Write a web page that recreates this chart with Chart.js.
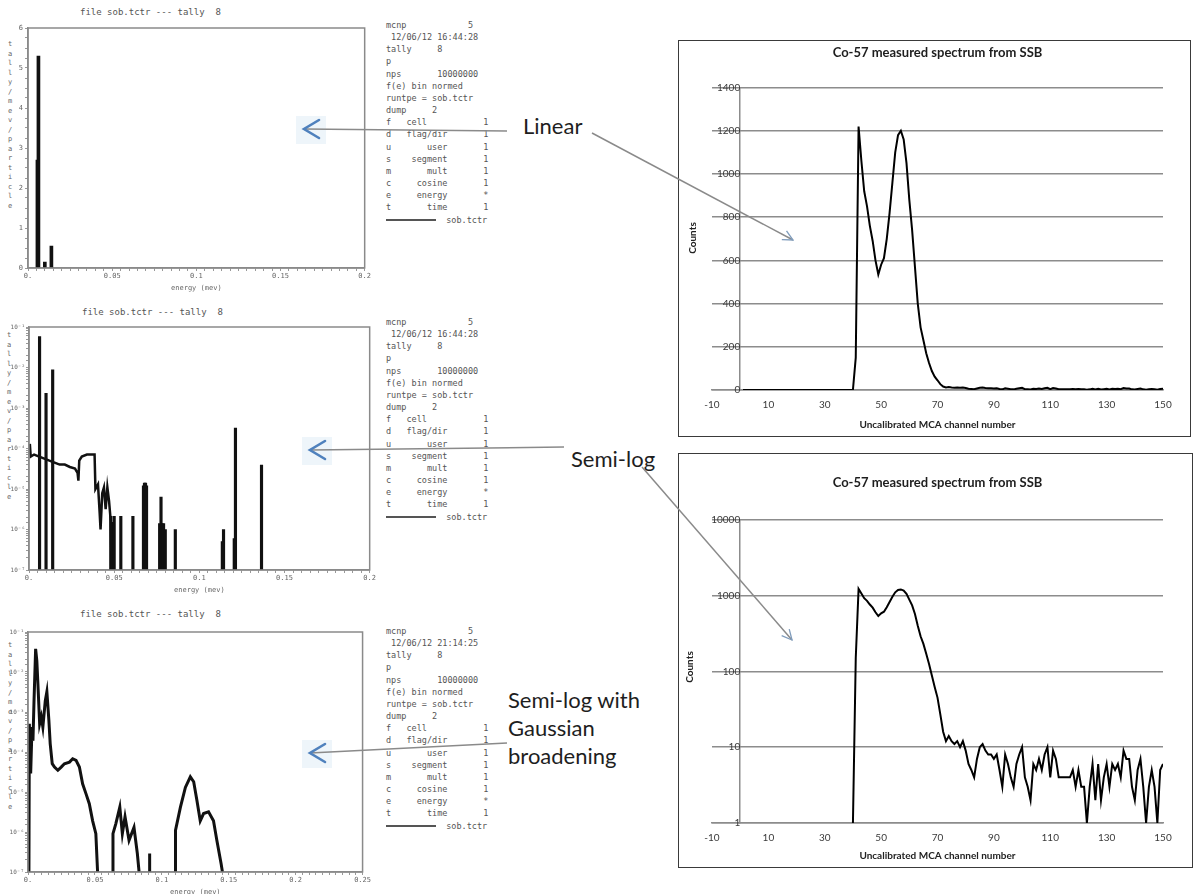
<!DOCTYPE html>
<html>
<head>
<meta charset="utf-8">
<script src="https://cdn.jsdelivr.net/npm/chart.js@4.4.0/dist/chart.umd.min.js"></script>
<style>
body { margin: 0; background: #fff; width: 1197px; height: 894px; position: relative; overflow: hidden; font-family: Lato, sans-serif; }
.abs { position: absolute; }
.box { position: absolute; border: 1.5px solid #3a3a3a; box-sizing: border-box; }
pre.info { position: absolute; margin: 0; font: 8.5px/12.15px "DejaVu Sans Mono", monospace; color: #555; }
pre.info span.key { display: inline-block; width: 50px; height: 0; border-top: 2px solid #555; vertical-align: middle; }
.ttl { position: absolute; font: 9px "DejaVu Sans Mono", monospace; color: #555; white-space: pre; }
.vlab { position: absolute; writing-mode: vertical-lr; text-orientation: upright; font: 7px "DejaVu Sans Mono", monospace; color: #666; letter-spacing: 1.5px; }
.note { position: absolute; font: 22px/28px Lato, sans-serif; color: #1e1e1e; white-space: pre; }
.ytitle { position: absolute; font: bold 10px Lato, sans-serif; color: #222; transform: rotate(-90deg); transform-origin: center; white-space: nowrap; }
</style>
</head>
<body>

<!-- MCNP tally plots (left) -->
<div class="ttl" style="left:80px;top:7px">file sob.tctr --- tally  8</div>
<div class="vlab" style="left:6px;top:40px">tally/mev/particle</div>
<canvas id="mcnpLin" class="abs" style="left:0;top:20px" width="372" height="272"></canvas>

<div class="ttl" style="left:82px;top:307px">file sob.tctr --- tally  8</div>
<div class="vlab" style="left:5px;top:331px">tally/mev/particle</div>
<canvas id="mcnpLog" class="abs" style="left:0;top:319px" width="377" height="275"></canvas>

<div class="ttl" style="left:80px;top:609px">file sob.tctr --- tally  8</div>
<div class="vlab" style="left:6px;top:641px">tally/mev/particle</div>
<canvas id="mcnpGauss" class="abs" style="left:0;top:624px" width="372" height="272"></canvas>

<pre class="info" style="left:386px;top:19px">mcnp            5
 12/06/12 16:44:28
tally     8
p
nps       10000000
f(e) bin normed
runtpe = sob.tctr
dump     2
f   cell           1
d   flag/dir       1
u       user       1
s    segment       1
m       mult       1
c     cosine       1
e     energy       *
t       time       1
<span class="key"></span>  sob.tctr</pre>

<pre class="info" style="left:386px;top:316px">mcnp            5
 12/06/12 16:44:28
tally     8
p
nps       10000000
f(e) bin normed
runtpe = sob.tctr
dump     2
f   cell           1
d   flag/dir       1
u       user       1
s    segment       1
m       mult       1
c     cosine       1
e     energy       *
t       time       1
<span class="key"></span>  sob.tctr</pre>

<pre class="info" style="left:386px;top:625px">mcnp            5
 12/06/12 21:14:25
tally     8
p
nps       10000000
f(e) bin normed
runtpe = sob.tctr
dump     2
f   cell           1
d   flag/dir       1
u       user       1
s    segment       1
m       mult       1
c     cosine       1
e     energy       *
t       time       1
<span class="key"></span>  sob.tctr</pre>

<!-- measured spectra (right) -->
<canvas id="specLin" class="abs" style="left:678px;top:40px" width="513" height="397"></canvas>
<div class="box" style="left:678px;top:40px;width:513px;height:397px"></div>
<div class="ytitle" style="left:676px;top:232px">Counts</div>

<canvas id="specLog" class="abs" style="left:678px;top:453px" width="515" height="415"></canvas>
<div class="box" style="left:678px;top:453px;width:515px;height:415px"></div>
<div class="ytitle" style="left:673px;top:661px">Counts</div>

<!-- labels and arrows -->
<div class="note" style="left:523px;top:112px">Linear</div>
<div class="note" style="left:571px;top:445px">Semi-log</div>
<div class="note" style="left:508px;top:686px">Semi-log with
Gaussian
broadening</div>

<svg class="abs" style="left:0;top:0" width="1197" height="894">
  <defs>
    <marker id="head" viewBox="0 0 12 12" refX="11" refY="6" markerWidth="12" markerHeight="12" markerUnits="userSpaceOnUse" orient="auto">
      <path d="M1,1 L11,6 L1,11" fill="none" stroke="#7f9cbc" stroke-width="1.3"/>
    </marker>
  </defs>
  <g fill="#eef5fa">
    <rect x="296" y="116" width="30" height="28"/>
    <rect x="302" y="437" width="30" height="28"/>
    <rect x="302" y="740" width="30" height="28"/>
  </g>
  <g stroke="#8a8a8a" stroke-width="1.5" fill="none">
    <line x1="304" y1="129" x2="507" y2="131"/>
    <line x1="310" y1="450" x2="564" y2="447"/>
    <line x1="310" y1="753" x2="507" y2="743"/>
    <line x1="592" y1="133" x2="793" y2="240" marker-end="url(#head)"/>
    <line x1="642" y1="467" x2="792" y2="640" marker-end="url(#head)"/>
  </g>
  <g stroke="#4f81bd" stroke-width="2.6" fill="none" stroke-linecap="round">
    <polyline points="319,120 304,129 319,138"/>
    <polyline points="325,441 310,450 325,459"/>
    <polyline points="325,744 310,753 325,762"/>
  </g>
</svg>

<script>
Chart.defaults.animation = false;
Chart.defaults.font.family = 'Lato';

// measured Co-57 spectrum, one value per MCA channel
const channels = [
  1, 2, 3, 4, 5, 6, 7, 8, 9, 10,
  11, 12, 13, 14, 15, 16, 17, 18, 19, 20,
  21, 22, 23, 24, 25, 26, 27, 28, 29, 30,
  31, 32, 33, 34, 35, 36, 37, 38, 39, 40,
  41, 42, 43, 44, 45, 46, 47, 48, 49, 50,
  51, 52, 53, 54, 55, 56, 57, 58, 59, 60,
  61, 62, 63, 64, 65, 66, 67, 68, 69, 70,
  71, 72, 73, 74, 75, 76, 77, 78, 79, 80,
  81, 82, 83, 84, 85, 86, 87, 88, 89, 90,
  91, 92, 93, 94, 95, 96, 97, 98, 99, 100,
  101, 102, 103, 104, 105, 106, 107, 108, 109, 110,
  111, 112, 113, 114, 115, 116, 117, 118, 119, 120,
  121, 122, 123, 124, 125, 126, 127, 128, 129, 130,
  131, 132, 133, 134, 135, 136, 137, 138, 139, 140,
  141, 142, 143, 144, 145, 146, 147, 148, 149, 150
];
const counts = [
  0, 0, 0, 0, 0, 0, 0, 0, 0, 0,
  0, 0, 0, 0, 0, 0, 0, 0, 0, 0,
  0, 0, 0, 0, 0, 0, 0, 0, 0, 0,
  0, 0, 0, 0, 0, 0, 0, 0, 0, 1,
  150, 1220, 1060, 920, 850, 760, 690, 600, 535, 580,
  610, 700, 820, 960, 1100, 1180, 1200, 1160, 1050, 880,
  740, 570, 400, 290, 230, 170, 125, 88, 62, 45,
  27, 16, 12, 14, 12, 11, 12, 10, 12, 9,
  6, 5, 4, 7, 10, 11, 9, 8, 8, 7,
  8, 5, 3, 8, 6, 4, 3, 6, 8, 10,
  4, 3, 2, 6, 5, 7, 5, 8, 10, 4,
  9, 7, 4, 4, 4, 4, 4, 5, 3, 5,
  3, 3, 1, 3, 6, 2, 6, 2, 4, 6,
  3, 6, 5, 6, 4, 9, 7, 7, 3, 2,
  5, 7, 3, 1, 3, 5, 3, 1, 5, 6
];
const channelTicks = [-10, 10, 30, 50, 70, 90, 110, 130, 150];
const linCountTicks = [0, 200, 400, 600, 800, 1000, 1200, 1400];
const logCountTicks = [1, 10, 100, 1000, 10000];
const spectrumTitle = 'Co-57 measured spectrum from SSB';
const channelTitle = 'Uncalibrated MCA channel number';

// MCNP tally, linear plot (energy in MeV)
const linPeakE = [0.0056, 0.0062, 0.0100, 0.0139];
const linPeakV = [2.7, 5.3, 0.15, 0.55];

// MCNP tally, semi-log plot
const semiE = [0.0005, 0.001, 0.003, 0.006, 0.009, 0.012, 0.015, 0.018, 0.021, 0.024,
  0.027, 0.0285, 0.029, 0.0295, 0.031, 0.034, 0.037, 0.0385, 0.039, 0.0405,
  0.0415, 0.042, 0.043, 0.044, 0.045, 0.046, 0.047, 0.048, 0.0485];
const semiV = [1.3e-4, 6.3e-5, 7.1e-5, 6.3e-5, 5.6e-5, 5.0e-5, 4.5e-5, 4.0e-5, 4.0e-5, 3.5e-5,
  3.2e-5, 2.5e-5, 1.6e-5, 5.0e-5, 6.3e-5, 7.1e-5, 7.1e-5, 7.1e-5, 1.0e-5, 1.3e-5,
  2.5e-6, 1.0e-6, 7.9e-6, 1.1e-5, 3.2e-6, 1.1e-5, 5.0e-6, 1.6e-6, 1e-7];
const semiPeakE = [0.0062, 0.0100, 0.0139, 0.0480, 0.0490, 0.0500, 0.0539, 0.0610,
  0.0672, 0.0678, 0.0684, 0.0690, 0.0767, 0.0775, 0.0781, 0.0790, 0.0800, 0.0859,
  0.1135, 0.1142, 0.1205, 0.1212, 0.1365];
const semiPeakV = [5.8e-2, 2.3e-3, 8.7e-3, 2.1e-6, 1.5e-6, 2.1e-6, 2.1e-6, 2.1e-6,
  1.2e-5, 1.4e-5, 1.4e-5, 1.2e-5, 1.4e-6, 6.3e-6, 1.4e-6, 1.4e-6, 1.0e-6, 1.0e-6,
  5e-7, 1.0e-6, 6e-7, 3.2e-4, 3.9e-5];

// MCNP tally, semi-log with gaussian broadening
const gaussE = [0.0007, 0.001, 0.002, 0.003, 0.0037, 0.0045, 0.0057, 0.0066, 0.0074, 0.0087,
  0.0099, 0.0111, 0.0129, 0.0141, 0.0156, 0.0166, 0.0181, 0.0198, 0.0223, 0.0248,
  0.0272, 0.031, 0.0334, 0.0359, 0.0384, 0.0408, 0.0433, 0.0458, 0.0483, 0.0507,
  0.052, 0.057, 0.063, 0.0635, 0.0656, 0.0686, 0.0705, 0.0725, 0.0755, 0.0792,
  0.0817, 0.083, 0.087, 0.0905, 0.0908, 0.091, 0.1, 0.110, 0.1102, 0.1139,
  0.1176, 0.1213, 0.1238, 0.1262, 0.1287, 0.1312, 0.1349, 0.1386, 0.1411, 0.1443,
  0.1453];
const gaussV = [1e-7, 5.1e-4, 2.9e-5, 4.2e-4, 1.9e-4, 1.9e-3, 3.8e-2, 1.9e-2, 5.1e-3, 5.1e-4,
  7.6e-4, 4.2e-4, 1.9e-3, 3.2e-3, 6.2e-4, 1.6e-4, 5.1e-5, 4.2e-5, 3.5e-5, 4.2e-5,
  5.1e-5, 5.6e-5, 6.8e-5, 6.2e-5, 4.2e-5, 1.6e-5, 9.1e-6, 5.1e-6, 1.9e-6, 9.1e-7,
  1e-7, null, 1e-7, 9.1e-7, 1.6e-6, 4.2e-6, 9.1e-7, 2.4e-6, 6.2e-7, 1.3e-6,
  2.9e-7, 1e-7, null, 1e-7, 2.9e-7, 1e-7, null, 1e-7, 1.1e-6, 4.2e-6,
  1.3e-5, 2.4e-5, 1.8e-5, 6.2e-6, 1.9e-6, 2.9e-6, 3.2e-6, 1.9e-6, 6.2e-7, 1.6e-7,
  1e-7];

const pairs = (xs, ys) => xs.map((x, i) => ({ x: x, y: ys[i] }));

const framePlugin = {
  id: 'frame',
  afterDatasetsDraw(chart) {
    const a = chart.chartArea;
    const ctx = chart.ctx;
    ctx.save();
    ctx.strokeStyle = '#8a8a8a';
    ctx.lineWidth = 1.5;
    ctx.strokeRect(a.left, a.top, a.right - a.left, a.bottom - a.top);
    ctx.restore();
  }
};

const sup = { '-': '\u207b', '0': '\u2070', '1': '\u00b9', '2': '\u00b2', '3': '\u00b3', '4': '\u2074', '5': '\u2075', '6': '\u2076', '7': '\u2077', '8': '\u2078', '9': '\u2079' };
const mcnpFont = { family: 'DejaVu Sans Mono', size: 7 };

function mcnpChart(id, xMax, yScale, datasets, yWidth) {
  return new Chart(document.getElementById(id), {
    type: 'line',
    data: { datasets: datasets },
    options: {
      responsive: false,
      layout: { padding: { top: 8, right: 7, left: 0, bottom: 0 } },
      plugins: { legend: { display: false }, tooltip: { enabled: false } },
      scales: {
        x: {
          type: 'linear', min: 0, max: xMax, offset: false,
          ticks: {
            stepSize: 0.005, autoSkip: false, maxRotation: 0, padding: 1,
            color: '#666', font: mcnpFont,
            callback: v => {
              const k = v / 0.05;
              if (Math.abs(k - Math.round(k)) > 1e-6) return '';
              return v === 0 ? '0.' : String(Math.round(v * 100) / 100);
            }
          },
          grid: { drawOnChartArea: false, tickLength: 3, color: '#999', offset: false },
          border: { color: '#8a8a8a', width: 1.5 },
          title: { display: true, text: 'energy (mev)', color: '#666', font: mcnpFont, padding: 0 },
          afterFit: s => { s.height = 24; }
        },
        y: Object.assign({
          grid: { drawOnChartArea: false, tickLength: 3, color: '#999' },
          border: { color: '#8a8a8a', width: 1.5 },
          afterFit: s => { s.width = yWidth; }
        }, yScale)
      }
    },
    plugins: [framePlugin]
  });
}

const logMcnpY = {
  type: 'logarithmic', min: 1e-7, max: 1e-1,
  ticks: {
    autoSkip: false, padding: 1, color: '#666', font: { family: 'DejaVu Sans Mono', size: 6 },
    callback: v => {
      const e = Math.log10(v);
      if (Math.abs(e - Math.round(e)) > 1e-6) return '';
      return '10' + String(Math.round(e)).split('').map(c => sup[c]).join('');
    }
  }
};

mcnpChart('mcnpLin', 0.2, {
  type: 'linear', min: 0, max: 6,
  ticks: {
    stepSize: 0.25, autoSkip: false, padding: 2, color: '#666', font: mcnpFont,
    callback: v => Number.isInteger(v) ? String(v) : ''
  }
}, [{
  type: 'bar', data: pairs(linPeakE, linPeakV),
  backgroundColor: '#111', barThickness: 3
}], 28);

mcnpChart('mcnpLog', 0.2, logMcnpY, [
  { type: 'line', data: pairs(semiE, semiV), borderColor: '#111', borderWidth: 2.5, pointRadius: 0, tension: 0 },
  { type: 'bar', data: pairs(semiPeakE, semiPeakV), backgroundColor: '#111', barThickness: 2.5 }
], 29);

mcnpChart('mcnpGauss', 0.25, logMcnpY, [
  { type: 'line', data: pairs(gaussE, gaussV), borderColor: '#111', borderWidth: 3, pointRadius: 0, tension: 0, spanGaps: false }
], 28);

// measured spectra
function spectrumChart(id, yOpts, values, titlePad, axisHeight, padRight) {
  return new Chart(document.getElementById(id), {
    type: 'line',
    data: {
      datasets: [{
        data: channels.map((c, i) => ({ x: c, y: values[i] })),
        borderColor: '#000', borderWidth: 2, pointRadius: 0, tension: 0, spanGaps: false
      }]
    },
    options: {
      responsive: false,
      layout: { padding: { left: 34, right: padRight, top: 0, bottom: 0 } },
      plugins: {
        legend: { display: false }, tooltip: { enabled: false },
        title: {
          display: true, text: spectrumTitle, color: '#1e1e1e',
          font: { size: 13, weight: 'bold' }, padding: titlePad
        }
      },
      scales: {
        x: {
          type: 'linear', min: -10, max: 150,
          afterBuildTicks: s => { s.ticks = channelTicks.map(v => ({ value: v })); },
          ticks: { color: '#3a3a3a', font: { size: 10 }, padding: 9, maxRotation: 0, callback: v => String(v) },
          grid: { display: false, drawTicks: false },
          border: { color: '#8c8c8c', width: 1.5 },
          title: { display: true, text: channelTitle, color: '#222', font: { size: 10, weight: 'bold' }, padding: { top: 0, bottom: 6 } },
          afterFit: s => { s.height = axisHeight; }
        },
        y: Object.assign({
          position: { x: 0 },
          ticks: { color: '#3a3a3a', font: { size: 10 }, padding: 10, callback: v => String(v) },
          grid: { color: '#8c8c8c', lineWidth: 1.5, drawTicks: false },
          border: { color: '#8c8c8c', width: 1.5 }
        }, yOpts)
      }
    }
  });
}

spectrumChart('specLin', {
  type: 'linear', min: 0, max: 1400,
  afterBuildTicks: s => { s.ticks = linCountTicks.map(v => ({ value: v })); }
}, counts, { top: 5, bottom: 27 }, 47, 28);

spectrumChart('specLog', {
  type: 'logarithmic', min: 1, max: 10000,
  afterBuildTicks: s => { s.ticks = logCountTicks.map(v => ({ value: v })); }
}, counts.map(v => v > 0 ? v : null), { top: 22, bottom: 29 }, 45, 30);
</script>
</body>
</html>
